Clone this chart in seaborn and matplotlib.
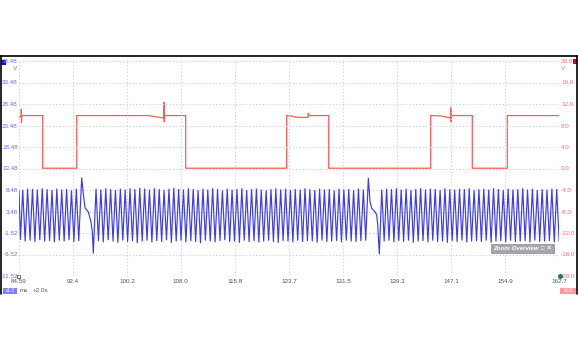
import matplotlib
matplotlib.use("Agg")
import matplotlib.pyplot as plt
from matplotlib.patches import Rectangle
from matplotlib.lines import Line2D
import pandas as pd
import seaborn as sns

# ---- axis ticks ----
time_ticks = [84.59, 92.4, 100.2, 108.0, 115.8, 123.7, 131.5, 139.3, 147.1, 154.9, 162.7]
time_labels = ["84.59", "92.4", "100.2", "108.0", "115.8", "123.7", "131.5", "139.3", "147.1", "154.9", "162.7"]
left_ticks = [38.48, 33.48, 28.48, 23.48, 18.48, 13.48, 8.48, 3.48, -1.52, -6.52, -11.52]
right_ticks = [20.0, 16.0, 12.0, 8.0, 4.0, 0.0, -4.0, -8.0, -12.0, -16.0, -20.0]

# ---- channel A (crank sensor, left scale) ----
peak_t_a = [85.13, 85.83, 86.54, 87.24, 87.95, 88.65, 89.36, 90.06, 90.77, 91.47, 92.18, 92.88]
peak_v_a = [8.4, 8.7, 8.6, 8.5, 8.8, 8.6, 8.4, 8.7, 8.5, 8.6, 8.3, 8.7]
trough_t_a = [84.80, 85.48, 86.19, 86.89, 87.60, 88.30, 89.01, 89.71, 90.42, 91.12, 91.83, 92.53, 93.23]
trough_v_a = [-3.0, -3.4, -3.2, -3.5, -3.1, -3.4, -3.3, -3.6, -3.2, -3.4, -3.1, -3.5, -3.3]

peak_t_b = [95.73, 96.43, 97.14, 97.84, 98.54, 99.25, 99.95, 100.65, 101.35, 102.06,
            102.76, 103.46, 104.17, 104.87, 105.57, 106.28, 106.98, 107.68, 108.38, 109.09,
            109.79, 110.49, 111.20, 111.90, 112.60, 113.31, 114.01, 114.71, 115.41, 116.12,
            116.82, 117.52, 118.23, 118.93, 119.63, 120.34, 121.04, 121.74, 122.44, 123.15,
            123.85, 124.55, 125.26, 125.96, 126.66, 127.37, 128.07, 128.77, 129.47, 130.18,
            130.88, 131.58, 132.29, 132.99, 133.69, 134.40]
peak_v_b = [8.7, 8.5, 8.8, 8.6, 8.4, 8.7, 8.5, 8.8, 8.6, 8.9,
            8.7, 8.5, 8.8, 8.6, 8.4, 8.7, 8.9, 8.6, 8.5, 8.8,
            8.6, 8.4, 8.7, 8.5, 8.8, 8.6, 8.3, 8.7, 8.5, 8.6,
            8.8, 8.4, 8.6, 8.7, 8.5, 8.3, 8.6, 8.8, 8.5, 8.7,
            8.4, 8.6, 8.5, 8.8, 8.6, 8.4, 8.7, 8.5, 8.6, 8.3,
            8.7, 8.5, 8.6, 8.4, 8.7, 8.5]
trough_t_b = [96.08, 96.78, 97.49, 98.19, 98.89, 99.60, 100.30, 101.00, 101.70, 102.41,
              103.11, 103.81, 104.52, 105.22, 105.92, 106.63, 107.33, 108.03, 108.73, 109.44,
              110.14, 110.84, 111.55, 112.25, 112.95, 113.66, 114.36, 115.06, 115.76, 116.47,
              117.17, 117.87, 118.58, 119.28, 119.98, 120.69, 121.39, 122.09, 122.79, 123.50,
              124.20, 124.90, 125.61, 126.31, 127.01, 127.72, 128.42, 129.12, 129.82, 130.53,
              131.23, 131.93, 132.64, 133.34, 134.04, 134.74]
trough_v_b = [-3.3, -3.6, -3.1, -3.4, -3.7, -3.2, -3.5, -3.3, -3.8, -3.4,
              -3.2, -3.6, -3.3, -3.5, -3.1, -3.7, -3.4, -3.2, -3.6, -3.3,
              -3.5, -3.8, -3.2, -3.4, -3.6, -3.3, -3.1, -3.5, -3.4, -3.7,
              -3.2, -3.5, -3.3, -3.6, -3.4, -3.2, -3.5, -3.7, -3.3, -3.4,
              -3.6, -3.2, -3.5, -3.3, -3.4, -3.7, -3.2, -3.5, -3.4, -3.3,
              -3.6, -3.2, -3.4, -3.5, -3.3, -3.2]

peak_t_c = [137.06, 137.76, 138.47, 139.17, 139.87, 140.58, 141.28, 141.98, 142.68, 143.39,
            144.09, 144.79, 145.50, 146.20, 146.90, 147.61, 148.31, 149.01, 149.71, 150.42,
            151.12, 151.82, 152.53, 153.23, 153.93, 154.64, 155.34, 156.04, 156.74, 157.45,
            158.15, 158.85, 159.56, 160.26, 160.96, 161.67, 162.37]
peak_v_c = [8.5, 8.7, 8.6, 8.8, 8.5, 8.7, 8.4, 8.6, 8.8, 8.5,
            8.7, 8.6, 8.4, 8.8, 8.6, 8.5, 8.7, 8.6, 8.8, 8.4,
            8.6, 8.7, 8.5, 8.8, 8.6, 8.4, 8.7, 8.5, 8.6, 8.8,
            8.5, 8.7, 8.4, 8.6, 8.5, 8.7, 8.6]
trough_t_c = [137.41, 138.11, 138.82, 139.52, 140.22, 140.93, 141.63, 142.33, 143.03, 143.74,
              144.44, 145.14, 145.85, 146.55, 147.25, 147.96, 148.66, 149.36, 150.06, 150.77,
              151.47, 152.17, 152.88, 153.58, 154.28, 154.99, 155.69, 156.39, 157.09, 157.80,
              158.50, 159.20, 159.91, 160.61, 161.31, 162.02, 162.72]
trough_v_c = [-3.4, -3.2, -3.6, -3.3, -3.5, -3.2, -3.7, -3.4, -3.3, -3.6,
              -3.2, -3.5, -3.4, -3.7, -3.3, -3.5, -3.2, -3.6, -3.4, -3.3,
              -3.5, -3.2, -3.7, -3.4, -3.3, -3.6, -3.2, -3.5, -3.4, -3.3,
              -3.6, -3.2, -3.5, -3.4, -3.3, -3.6, -3.4]

# first sample and the two missing-tooth transitions
gap_t = [84.59, 93.66, 93.89, 94.14, 94.61, 95.00, 95.19, 95.34,
         135.12, 135.36, 135.61, 136.09, 136.33, 136.48, 136.71]
gap_v = [8.2, 11.3, 7.6, 4.3, 3.4, 1.1, -1.2, -6.2,
         11.2, 5.8, 4.2, 3.4, 2.7, 0.3, -6.4]

# ---- channel B (cam sensor, right scale) ----
red_t = [84.59, 84.92, 84.92, 84.95, 85.00, 88.02, 88.02, 92.94, 92.94, 103.25,
         105.50, 105.56, 105.56, 105.60, 105.66, 108.70, 108.70, 123.31, 123.31, 124.00,
         124.60, 126.40, 126.44, 126.50, 129.39, 129.39, 144.14, 144.14, 145.49, 147.04,
         147.08, 147.10, 147.18, 150.16, 150.16, 155.22, 155.22, 162.70]
red_v = [9.6, 9.6, 11.0, 8.5, 9.85, 9.85, 0.05, 0.05, 9.85, 9.85,
         9.4, 9.4, 12.3, 8.7, 9.85, 9.85, 0.05, 0.05, 9.85, 9.75,
         9.55, 9.5, 10.3, 9.85, 9.85, 0.05, 0.05, 9.85, 9.8, 9.4,
         11.3, 8.6, 9.85, 9.85, 0.05, 0.05, 9.85, 9.85]

blue_df = pd.concat([
    pd.DataFrame({"t": peak_t_a + peak_t_b + peak_t_c, "v": peak_v_a + peak_v_b + peak_v_c}),
    pd.DataFrame({"t": trough_t_a + trough_t_b + trough_t_c, "v": trough_v_a + trough_v_b + trough_v_c}),
    pd.DataFrame({"t": gap_t, "v": gap_v}),
]).sort_values("t").reset_index(drop=True)
red_df = pd.DataFrame({"t": red_t, "v": red_v})

BLUE = "#3b3bf4"
RED = "#ff5a5a"
BLUE_TXT = "#6a6aff"
RED_TXT = "#ff6e6e"
GRID = "#c3d9e6"
FS = 4.5

sns.set_theme(style="white")
plt.rcParams["font.family"] = ["Liberation Sans", "DejaVu Sans"]

W, H = 578, 350
fig = plt.figure(figsize=(W / 100, H / 100), dpi=100)
fig.patch.set_facecolor("white")


def fx(px):
    return px / W


def fy(py):
    return 1 - py / H


L, R, T, B = 19, 559, 61, 276
ax = fig.add_axes([fx(L), fy(B), (R - L) / W, (B - T) / H])
ax2 = ax.twinx()
ax.set_zorder(ax2.get_zorder() + 1)
ax.patch.set_visible(False)

sns.lineplot(data=red_df, x="t", y="v", ax=ax2, sort=False, estimator=None,
             color=RED, linewidth=0.9)
sns.lineplot(data=blue_df, x="t", y="v", ax=ax, sort=False, estimator=None,
             color=BLUE, linewidth=0.85)

ax.set_xlim(time_ticks[0], time_ticks[-1])
ax.set_ylim(-11.52, 38.48)
ax2.set_ylim(-20, 20)

ax.set_xticks(time_ticks)
ax.set_xticklabels(time_labels)
ax.set_yticks(left_ticks)
ax.set_yticklabels([f"{v:.2f}" for v in left_ticks])
ax2.set_yticks(right_ticks)
ax2.set_yticklabels([f"{v:.1f}" for v in right_ticks])

for a in (ax, ax2):
    a.set_xlabel("")
    a.set_ylabel("")
    for s in a.spines.values():
        s.set_visible(False)

ax.tick_params(axis="x", length=0, pad=2.5, labelsize=FS, labelcolor="#555555")
ax.tick_params(axis="y", length=0, pad=0.8, labelsize=FS, labelcolor=BLUE_TXT)
ax2.tick_params(axis="y", length=0, pad=1.5, labelsize=FS, labelcolor=RED_TXT)

ax.grid(True, color=GRID, linestyle=(0, (1.2, 1.8)), linewidth=0.8)
ax2.grid(False)
ax.set_axisbelow(True)

# units under the top tick labels
fig.text(fx(17.5), fy(69), "V", color=BLUE_TXT, fontsize=FS, ha="right", va="center")
fig.text(fx(561), fy(69), "V", color=RED_TXT, fontsize=FS, ha="left", va="center")

# channel colour swatches
fig.add_artist(Rectangle((fx(1), fy(65)), fx(5), 5 / H, transform=fig.transFigure,
                         facecolor="#1010c8", edgecolor="none"))
fig.add_artist(Rectangle((fx(573), fy(64)), fx(4), 5 / H, transform=fig.transFigure,
                         facecolor="#c81010", edgecolor="none"))

# small marker after the bottom left label
fig.add_artist(Rectangle((fx(17), fy(277.5)), fx(3), 3 / H, transform=fig.transFigure,
                         facecolor="white", edgecolor="#444444", linewidth=0.6))

# trigger dot on the right
fig.add_artist(Line2D([fx(560)], [fy(275.5)], transform=fig.transFigure, marker="o",
                      markersize=3.6, markerfacecolor="#17786c", markeredgecolor="none",
                      linestyle="none", zorder=5))

# outer frame
fig.add_artist(Line2D([0, 1], [fy(56), fy(56)], transform=fig.transFigure,
                      color="black", linewidth=1.2))
fig.add_artist(Line2D([fx(0.6), fx(0.6)], [fy(56), fy(294)], transform=fig.transFigure,
                      color="black", linewidth=1.2))
fig.add_artist(Line2D([fx(577.4), fx(577.4)], [fy(56), fy(294)], transform=fig.transFigure,
                      color="black", linewidth=1.2))

# bottom status badges
fig.add_artist(Rectangle((fx(3), fy(294)), fx(14), 6 / H, transform=fig.transFigure,
                         facecolor="#8080ff", edgecolor="none"))
fig.text(fx(10), fy(291), "x1.0", color="white", fontsize=3.4, ha="center", va="center")
fig.text(fx(20), fy(291), "ms", color="#555555", fontsize=FS, ha="left", va="center")
fig.text(fx(33), fy(291), "+2.0s", color="#555555", fontsize=FS, ha="left", va="center")
fig.add_artist(Rectangle((fx(560), fy(294)), fx(16), 6 / H, transform=fig.transFigure,
                         facecolor="#ff9a9a", edgecolor="none"))
fig.text(fx(568), fy(291), "x1.0", color="white", fontsize=3.4, ha="center", va="center")

# zoom overview tab
fig.add_artist(Rectangle((fx(491), fy(252.5)), fx(63), 9 / H, transform=fig.transFigure,
                         facecolor="#a6a6a6", edgecolor="#8c8c8c", linewidth=0.5, zorder=6))
fig.text(fx(493), fy(248), "Zoom Overview", color="white", fontsize=4.4, style="italic",
         weight="bold", ha="left", va="center", zorder=7)
fig.text(fx(543), fy(248), "\u25a1", color="white", fontsize=4.0, ha="center", va="center", zorder=7)
fig.text(fx(549), fy(248), "\u00d7", color="white", fontsize=5.5, weight="bold",
         ha="center", va="center", zorder=7)

fig.savefig("out.png", dpi=100, facecolor="white")
